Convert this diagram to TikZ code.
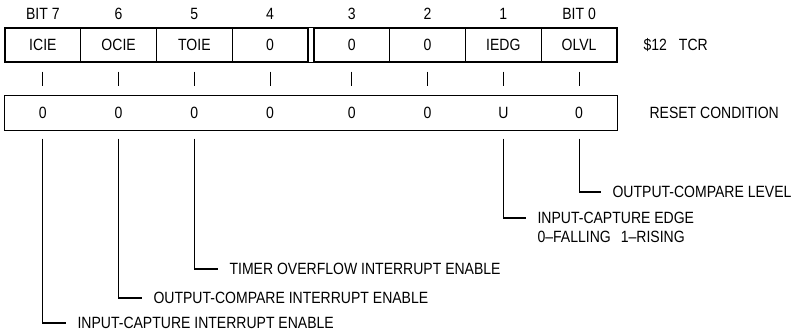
\documentclass[tikz,border=0pt]{standalone}
\usepackage{fontspec}
\setmainfont{Liberation Sans}[FakeStretch=0.86]
\begin{document}
\begin{tikzpicture}[x=1bp, y=1bp, line width=1.1bp,
  txt/.style={font=\fontsize{16.3bp}{19bp}\selectfont, inner sep=0pt},
  cell/.style={txt, draw, minimum width=75.75bp, minimum height=34bp},
  val/.style={txt, minimum width=75.75bp, minimum height=34bp},
  lbl/.style={txt, anchor=west},
  lead/.style={shorten <=8bp, shorten >=11bp}]
  \useasboundingbox (0,0) rectangle (792,332);
  % bit columns: heading, register cell, reset value
  \foreach \h/\t/\v [count=\k from 0] in {BIT 7/ICIE/0,6/OCIE/0,5/TOIE/0,4/0/0,3/0/0,2/0/0,1/IEDG/U,BIT 0/OLVL/0} {
    \pgfmathsetmacro\xc{5+75.75*(\k+0.5)+6*(\k>3)}
    \pgfmathtruncatemacro\n{7-\k}
    \node[txt] (bit\n) at (\xc,318) {\h};
    \node[cell] (tcr\n) at (\xc,287) {\t};
    \node[val] (rst\n) at (\xc,219) {\v};
    \draw[shorten <=9bp, shorten >=9bp] (tcr\n) -- (rst\n);
  }
  \draw (tcr4.north east) -- (tcr3.north west) (tcr4.south east) -- (tcr3.south west);
  \draw (rst7.north west) rectangle (rst0.south east);
  \node[lbl] (name) at (643,287) {\$12\hspace{12bp}TCR};
  \node[lbl] (reset) at (649,219) {RESET CONDITION};
  % bit descriptions
  \node[lbl] (desc0) at (612,140) {OUTPUT-COMPARE LEVEL};
  \node[lbl] (desc1) at (537,114) {INPUT-CAPTURE EDGE};
  \node[lbl] (desc1b) at (537,95) {0–FALLING\hspace{10bp}1–RISING};
  \node[lbl] (desc5) at (229,63) {TIMER OVERFLOW INTERRUPT ENABLE};
  \node[lbl] (desc6) at (153,34) {OUTPUT-COMPARE INTERRUPT ENABLE};
  \node[lbl] (desc7) at (77,9) {INPUT-CAPTURE INTERRUPT ENABLE};
  \foreach \n in {0,1,5,6,7} \draw[lead] (rst\n) |- (desc\n);
\end{tikzpicture}
\end{document}
